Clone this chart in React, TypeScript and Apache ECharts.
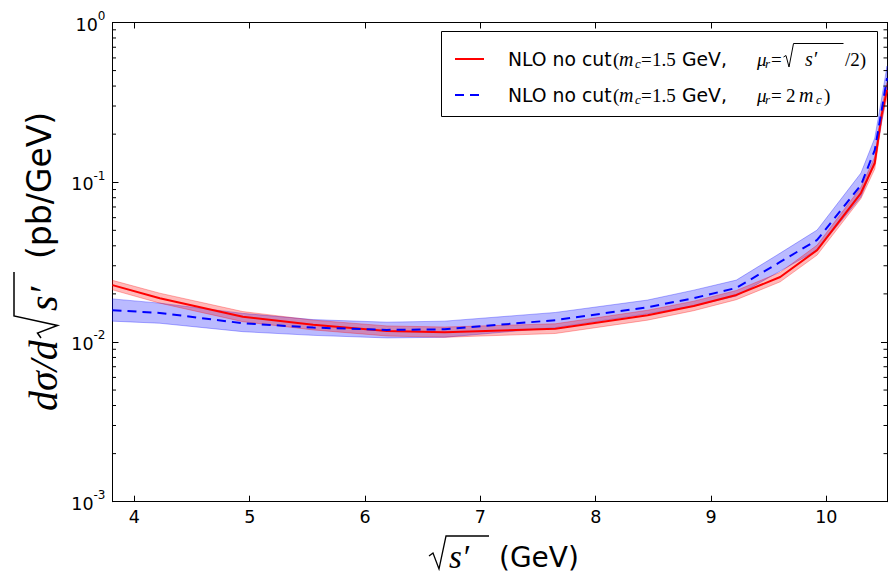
import React, { useEffect, useRef } from "react";
import * as echarts from "echarts";

// sqrt(s') sample points (GeV)
const X = [3.81, 4.22, 4.94, 5.55, 6.19, 6.69, 7.65, 8.45, 8.85, 9.22, 9.6, 9.92, 10.3, 10.42, 10.48, 10.526];

// mu_r = sqrt(s')/2 (red)
const RED = [0.0227, 0.0188, 0.0144, 0.0128, 0.0117, 0.0115, 0.0121, 0.0147, 0.0168, 0.0197, 0.0255, 0.0376, 0.0856, 0.132, 0.264, 0.378];
const RED_LO = [0.0212, 0.0175, 0.0134, 0.0119, 0.0109, 0.0107, 0.0113, 0.0137, 0.0157, 0.0184, 0.0238, 0.035, 0.079, 0.121, 0.24, 0.34];
const RED_HI = [0.0243, 0.0202, 0.0155, 0.0137, 0.0126, 0.0124, 0.013, 0.0158, 0.018, 0.021, 0.0273, 0.0404, 0.093, 0.144, 0.29, 0.42];

// mu_r = 2 m_c (blue)
const BLUE = [0.0158, 0.0152, 0.0131, 0.0123, 0.0119, 0.012, 0.0137, 0.0165, 0.0188, 0.0218, 0.0317, 0.0435, 0.096, 0.159, 0.283, 0.449];
const BLUE_LO = [0.0135, 0.0131, 0.0116, 0.011, 0.0106, 0.0107, 0.0123, 0.015, 0.0168, 0.0194, 0.0278, 0.0376, 0.0807, 0.134, 0.238, 0.378];
const BLUE_HI = [0.0186, 0.0175, 0.0151, 0.0138, 0.0133, 0.0135, 0.0153, 0.0183, 0.0211, 0.0244, 0.036, 0.0502, 0.1141, 0.189, 0.337, 0.534];

const X_MIN = 3.81;
const X_MAX = 10.526;
const Y_MIN = 0.001;
const Y_MAX = 1;
const MINOR_TICKS = [
  0.002, 0.003, 0.004, 0.005, 0.006, 0.007, 0.008, 0.009,
  0.02, 0.03, 0.04, 0.05, 0.06, 0.07, 0.08, 0.09,
  0.2, 0.3, 0.4, 0.5, 0.6, 0.7, 0.8, 0.9,
];

const RED_NAME = "NLO no cut(m_c =1.5 GeV, μ_r =√s′/2)";
const BLUE_NAME = "NLO no cut(m_c =1.5 GeV, μ_r =2m_c)";

const SERIF = "Liberation Serif";
const SANS = "DejaVu Sans";

function bandSeries(lo: number[], hi: number[], fill: string, stroke: string, z: number) {
  return {
    type: "custom",
    silent: true,
    clip: true,
    z,
    data: X.map((x, i) => [x, lo[i], hi[i]]),
    encode: { x: 0, y: [1, 2] },
    renderItem: (params: any, api: any) => {
      if (params.dataIndex !== 0) return null;
      const upper = X.map((x, i) => api.coord([x, hi[i]]));
      const lower = X.map((x, i) => api.coord([x, lo[i]])).reverse();
      return {
        type: "polygon",
        shape: { points: upper.concat(lower) },
        style: { fill, stroke, lineWidth: 1 },
      };
    },
  };
}

const legendRich = {
  sp: { width: 19 },
  p: { fontFamily: SERIF, fontSize: 19, lineHeight: 24, color: "#000" },
  t1: { fontFamily: SANS, fontSize: 18.8, lineHeight: 24, color: "#000", width: 105 },
  par: { fontFamily: SERIF, fontSize: 19, lineHeight: 24, color: "#000", width: 6 },
  m1: { fontFamily: SERIF, fontStyle: "italic", fontSize: 20, lineHeight: 24, color: "#000", width: 16 },
  c1: { fontFamily: SERIF, fontStyle: "italic", fontSize: 13, lineHeight: 24, color: "#000", padding: [8, 0, 0, 0], width: 6 },
  eq1: { fontFamily: SERIF, fontSize: 19, lineHeight: 24, color: "#000", width: 11 },
  n15: { fontFamily: SERIF, fontSize: 19, lineHeight: 24, color: "#000", width: 24 },
  gev: { fontFamily: SANS, fontSize: 18.8, lineHeight: 24, color: "#000", width: 81 },
  mu: { fontFamily: SERIF, fontStyle: "italic", fontSize: 19, lineHeight: 24, color: "#000", width: 8 },
  r1: { fontFamily: SERIF, fontStyle: "italic", fontSize: 13, lineHeight: 24, color: "#000", padding: [8, 0, 0, 0], width: 6 },
  eq2: { fontFamily: SERIF, fontSize: 19, lineHeight: 24, color: "#000", width: 15 },
  rad: { fontFamily: SERIF, fontSize: 19, lineHeight: 24, color: "#000", width: 19 },
  sp2: { fontFamily: SERIF, fontStyle: "italic", fontSize: 20, lineHeight: 24, color: "#000", width: 40 },
  two: { fontFamily: SERIF, fontSize: 19, lineHeight: 24, color: "#000", width: 13 },
  m2: { fontFamily: SERIF, fontStyle: "italic", fontSize: 20, lineHeight: 24, color: "#000", width: 17 },
  c2: { fontFamily: SERIF, fontStyle: "italic", fontSize: 13, lineHeight: 24, color: "#000", padding: [8, 0, 0, 0], width: 8 },
};

function legendText(name: string) {
  const head = "{sp| }{t1|NLO no cut}{par|(}{m1|m}{c1|c}{eq1|=}{n15|1.5}{gev| GeV,}{mu|μ}{r1|r}";
  if (name === RED_NAME) return head + "{eq2|=}{rad| }{sp2|s′}{p|/2)}";
  return head + "{eq2|=}{two|2}{m2|m}{c2|c}{p|)}";
}

export default function App() {
  const ref = useRef<HTMLDivElement>(null);

  useEffect(() => {
    if (!ref.current) return;
    const chart = echarts.init(ref.current, undefined, { renderer: "svg" });

    const axisCommon = {
      axisLine: { show: true, onZero: false, lineStyle: { color: "#000", width: 1 } },
      axisTick: { show: true, inside: true, length: 6, lineStyle: { color: "#000", width: 1 } },
      splitLine: { show: false },
    };

    const option: any = {
      animation: false,
      textStyle: { fontFamily: SANS },
      grid: { left: 112.5, right: 9, top: 22.5, bottom: 83.3, containLabel: false },
      xAxis: [
        {
          type: "value",
          position: "bottom",
          min: X_MIN,
          max: X_MAX,
          splitNumber: 7,
          minInterval: 1,
          maxInterval: 1,
          ...axisCommon,
          axisLabel: {
            show: true,
            color: "#000",
            fontFamily: SANS,
            fontSize: 17.5,
            margin: 6,
            showMinLabel: false,
            showMaxLabel: false,
          },
        },
        {
          type: "value",
          position: "top",
          min: X_MIN,
          max: X_MAX,
          splitNumber: 7,
          minInterval: 1,
          maxInterval: 1,
          ...axisCommon,
          axisLabel: { show: false },
        },
      ],
      yAxis: [
        {
          type: "log",
          logBase: 10,
          position: "left",
          min: Y_MIN,
          max: Y_MAX,
          ...axisCommon,
          axisLabel: {
            show: true,
            margin: 7,
            formatter: (v: number) => `{b|10}{s|${Math.round(Math.log10(v))}}`,
            rich: {
              b: { fontFamily: SANS, fontSize: 17.5, color: "#000", padding: [4, 0, 0, 0] },
              s: { fontFamily: SANS, fontSize: 12, color: "#000", padding: [0, 0, 13, 0] },
            },
          },
        },
        {
          type: "log",
          logBase: 10,
          position: "right",
          min: Y_MIN,
          max: Y_MAX,
          ...axisCommon,
          axisLabel: { show: false },
        },
      ],
      legend: {
        data: [RED_NAME, BLUE_NAME],
        orient: "vertical",
        left: 454,
        top: 47,
        padding: 0,
        itemGap: 12,
        itemWidth: 29,
        itemHeight: 14,
        selectedMode: false,
        z: 6,
        itemStyle: { opacity: 0, borderWidth: 0 },
        textStyle: { fontFamily: SANS, fontSize: 18.8, color: "#000", lineHeight: 24, rich: legendRich },
        formatter: (name: string) => legendText(name),
      },
      graphic: [
        {
          type: "rect",
          z: 5,
          shape: { x: 441.5, y: 31.5, width: 436, height: 85 },
          style: { fill: "#fff", stroke: "#000", lineWidth: 1 },
        },
        {
          type: "polyline",
          z: 7,
          shape: { points: [[783.5, 57], [786, 55.5], [789, 67], [793.5, 43.5], [843.5, 43.5]] },
          style: { stroke: "#000", fill: null, lineWidth: 1 },
        },
        // x-axis title
        {
          type: "polyline",
          z: 7,
          shape: { points: [[429, 556], [433, 553], [439, 569], [446, 536], [489, 536]] },
          style: { stroke: "#000", fill: null, lineWidth: 1.3 },
        },
        {
          type: "text",
          z: 7,
          x: 449,
          y: 557,
          style: { text: "s′", fontFamily: SERIF, fontStyle: "italic", fontSize: 33, fill: "#000", align: "left", verticalAlign: "middle" },
        },
        {
          type: "text",
          z: 7,
          x: 499,
          y: 557.5,
          style: { text: "(GeV)", fontFamily: SANS, fontSize: 28, fill: "#000", align: "left", verticalAlign: "middle" },
        },
        // y-axis title
        {
          type: "text",
          z: 7,
          x: 43,
          y: 411,
          rotation: Math.PI / 2,
          style: { text: "dσ/d", fontFamily: SERIF, fontStyle: "italic", fontSize: 40, fill: "#000", align: "left", verticalAlign: "middle" },
        },
        {
          type: "polyline",
          z: 7,
          shape: { points: [[41, 338], [37.5, 333], [57.5, 325.5], [14, 316], [14, 272]] },
          style: { stroke: "#000", fill: null, lineWidth: 1.5 },
        },
        {
          type: "text",
          z: 7,
          x: 43,
          y: 311,
          rotation: Math.PI / 2,
          style: { text: "s′", fontFamily: SERIF, fontStyle: "italic", fontSize: 40, fill: "#000", align: "left", verticalAlign: "middle" },
        },
        {
          type: "text",
          z: 7,
          x: 39,
          y: 259,
          rotation: Math.PI / 2,
          style: { text: "(pb/GeV)", fontFamily: SANS, fontSize: 33, fill: "#000", align: "left", verticalAlign: "middle" },
        },
      ],
      series: [
        bandSeries(BLUE_LO, BLUE_HI, "rgba(0,0,255,0.27)", "rgba(0,0,255,0.3)", 1),
        bandSeries(RED_LO, RED_HI, "rgba(255,0,0,0.27)", "rgba(255,0,0,0.3)", 1),
        {
          type: "custom",
          silent: true,
          clip: false,
          z: 4,
          data: MINOR_TICKS.map((v) => [X_MIN, v]),
          encode: { x: 0, y: 1 },
          renderItem: (params: any, api: any) => {
            const p = api.coord([X_MIN, api.value(1)]);
            const cs = params.coordSys;
            return {
              type: "group",
              children: [
                { type: "line", shape: { x1: cs.x, y1: p[1], x2: cs.x + 3.5, y2: p[1] }, style: { stroke: "#000", lineWidth: 1 } },
                {
                  type: "line",
                  shape: { x1: cs.x + cs.width, y1: p[1], x2: cs.x + cs.width - 3.5, y2: p[1] },
                  style: { stroke: "#000", lineWidth: 1 },
                },
              ],
            };
          },
        },
        {
          name: RED_NAME,
          type: "line",
          z: 2,
          symbol: "none",
          showSymbol: false,
          data: X.map((x, i) => [x, RED[i]]),
          lineStyle: { color: "#ff0000", width: 2 },
          itemStyle: { color: "#ff0000" },
        },
        {
          name: BLUE_NAME,
          type: "line",
          z: 3,
          symbol: "none",
          showSymbol: false,
          data: X.map((x, i) => [x, BLUE[i]]),
          lineStyle: { color: "#0000ff", width: 2, type: [9, 6] },
          itemStyle: { color: "#0000ff" },
        },
      ],
    };

    chart.setOption(option);
    return () => chart.dispose();
  }, []);

  return (
    <div
      ref={ref}
      style={{ position: "absolute", left: 0, top: 0, width: 896, height: 585, background: "#fff" }}
    />
  );
}
